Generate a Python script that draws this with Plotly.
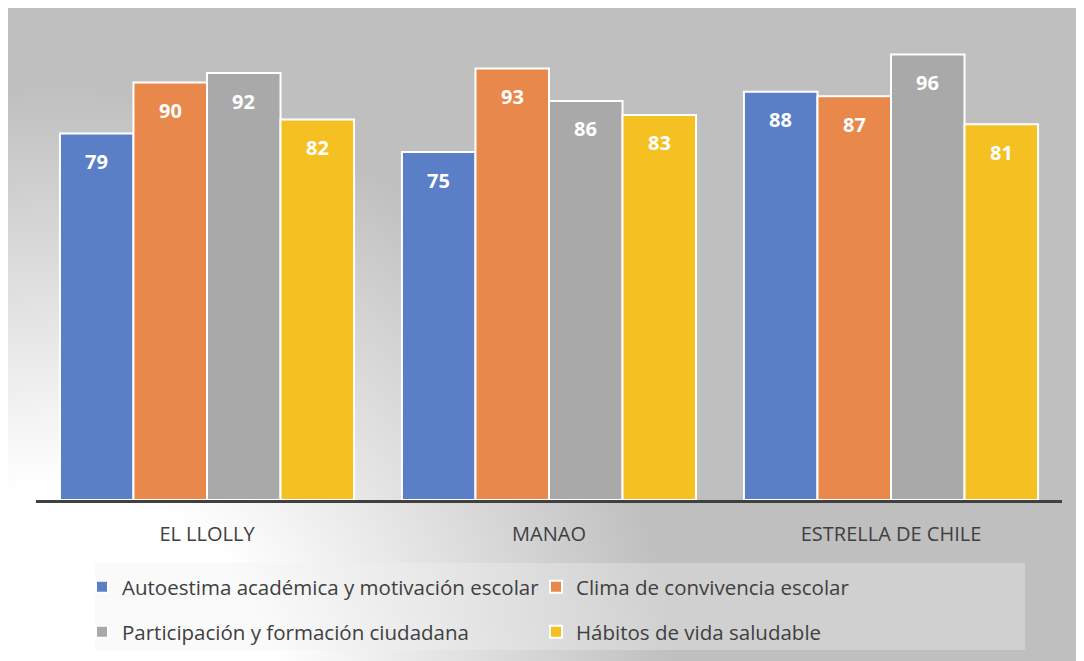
import base64
import struct
import zlib

import numpy as np
import plotly.graph_objects as go

# data
schools = ["EL LLOLLY", "MANAO", "ESTRELLA DE CHILE"]
autoestima = [79, 75, 88]
clima = [90, 93, 87]
participacion = [92, 86, 96]
habitos = [82, 83, 81]
series_names = [
    "Autoestima académica y motivación escolar",
    "Clima de convivencia escolar",
    "Participación y formación ciudadana",
    "Hábitos de vida saludable",
]
series_values = [autoestima, clima, participacion, habitos]
colors = ["#5a7fc6", "#e8884a", "#a9a9a9", "#f5c021"]

# the page body has an 8px margin, so the figure is placed at (8, 8)
OFF = 8
W, H = 1084 - OFF, 661 - OFF
ML, MR, MT, MB = 28, 22, 28, 161
PW, PH = W - ML - MR, H - MT - MB


def px2x(px):
    # page pixel -> paper x
    return (px - OFF - ML) / PW


def py2y(py):
    # page pixel -> paper y
    return (H - MB - (py - OFF)) / PH


def py2cy(py):
    # page pixel -> container y
    return 1 - (py - OFF) / H


def png_data_uri(gray):
    h, w = gray.shape
    raw = b"".join(b"\x00" + row.tobytes() for row in gray.astype(np.uint8))

    def chunk(tag, data):
        c = struct.pack(">I", len(data)) + tag + data
        return c + struct.pack(">I", zlib.crc32(tag + data) & 0xffffffff)

    png = (b"\x89PNG\r\n\x1a\n"
           + chunk(b"IHDR", struct.pack(">IIBBBBB", w, h, 8, 0, 0, 0, 0))
           + chunk(b"IDAT", zlib.compress(raw, 9))
           + chunk(b"IEND", b""))
    return "data:image/png;base64," + base64.b64encode(png).decode()


# background gradient: white in the lower-left corner fading to gray
iw, ih = W // 2, H // 2
gx, gy = np.meshgrid(OFF + np.arange(iw) * 2, OFF + np.arange(ih) * 2)
d = np.hypot(gx - 60, gy - 700)
t = np.clip((d - 220) / 400, 0, 1)
bg = 255 - (255 - 191) * t

fig = go.Figure()

for name, vals, col in zip(series_names, series_values, colors):
    fig.add_trace(go.Bar(
        x=schools, y=vals, name=name,
        marker=dict(color=col, line=dict(color="white", width=2)),
        legend="legend" if name in series_names[:2] else "legend2",
    ))

# data labels inside the top of each bar
bar_w = PW / len(schools) * (1 - 0.14) / len(series_names)
for i, vals in enumerate(series_values):
    for s, v in zip(schools, vals):
        fig.add_annotation(
            x=s, y=v, text=str(v), showarrow=False,
            xshift=(i - 1.5) * bar_w, yshift=-28,
            font=dict(family="Open Sans", size=20, color="white", weight="bold"),
        )

legend_common = dict(
    orientation="h", xanchor="left", yanchor="middle", yref="container",
    bgcolor="rgba(0,0,0,0)", entrywidth=409, entrywidthmode="pixels",
    itemwidth=30, font=dict(family="Open Sans", size=20.5, color="#404040"),
)

fig.update_layout(
    width=W, height=H,
    margin=dict(l=ML, r=MR, t=MT, b=MB),
    paper_bgcolor="white", plot_bgcolor="rgba(0,0,0,0)",
    barmode="group", bargap=0.14, bargroupgap=0,
    font=dict(family="Open Sans", color="#404040"),
    xaxis=dict(
        type="category", showline=True, linecolor="#404040", linewidth=3,
        showgrid=False, ticks="", ticklabelstandoff=14,
        tickfont=dict(size=20, color="#404040"),
    ),
    yaxis=dict(range=[0, 100], visible=False),
    legend=dict(x=px2x(82), y=py2cy(587), **legend_common),
    legend2=dict(x=px2x(82), y=py2cy(632), **legend_common),
    images=[dict(
        source=png_data_uri(bg), xref="paper", yref="paper",
        x=px2x(OFF), y=py2y(OFF), sizex=W / PW, sizey=H / PH,
        xanchor="left", yanchor="top", sizing="stretch", layer="below",
    )],
    shapes=[
        dict(type="rect", xref="paper", yref="paper",
             x0=px2x(95), x1=px2x(1025), y0=py2y(650), y1=py2y(563),
             fillcolor="rgba(242,242,242,0.35)", line=dict(width=0), layer="below"),
    ],
)

fig.write_html("out.html")
